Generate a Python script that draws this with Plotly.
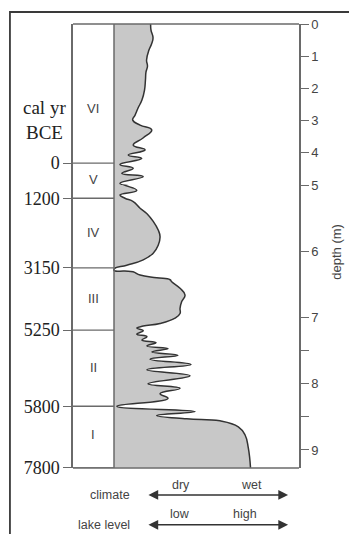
import plotly.graph_objects as go

# ---------------- data ----------------
# lake-level / moisture curve: depth in core (m) vs wetness index (0 = column edge, 100 = depth axis)
depth_m = [0.00, 0.19, 0.43, 0.62, 0.81, 1.12, 1.31, 1.49, 1.74, 2.05, 2.36, 2.61, 2.83, 2.98,
           3.14, 3.29, 3.54, 3.76, 3.91, 4.07, 4.18, 4.36, 4.48, 4.64, 4.74, 4.95, 5.08, 5.15,
           5.20, 5.25, 5.35, 5.43, 5.55, 5.68, 5.78, 5.91, 6.03, 6.13, 6.21, 6.26, 6.29, 6.30,
           6.31, 6.36, 6.40, 6.43, 6.46, 6.56, 6.66, 6.76, 6.86, 6.94, 7.01, 7.09, 7.13, 7.16,
           7.20, 7.25, 7.29, 7.34, 7.38, 7.43, 7.47, 7.52, 7.57, 7.63, 7.71, 7.79, 7.88, 8.00,
           8.07, 8.15, 8.22, 8.34, 8.42, 8.48, 8.53, 8.56, 8.65, 8.77, 8.97, 9.27]
wetness = [19.8, 20.0, 21.1, 20.3, 18.9, 17.6, 18.1, 17.3, 17.0, 16.5, 15.1, 13.0, 11.4, 10.1,
           14.1, 20.4, 15.7, 10.4, 16.8, 7.7, 15.0, 3.2, 10.4, 4.2, 15.8, 3.2, 12.3, 3.2,
           5.9, 10.4, 14.1, 17.7, 21.2, 23.9, 24.9, 23.9, 21.2, 15.8, 6.9, 0.3, 0.0, 5.9,
           10.3, 14.1, 23.1, 30.3, 31.2, 35.7, 38.4, 36.6, 35.7, 35.7, 33.0, 24.9, 15.8, 12.3,
           15.8, 12.3, 17.8, 15.1, 22.7, 17.8, 29.2, 20.5, 34.6, 19.5, 41.6, 17.8, 41.1, 18.4,
           35.7, 24.9, 29.2, 1.5, 43.8, 23.1, 39.3, 57.3, 67.2, 70.8, 72.6, 73.8]

age_labels = ["0", "1200", "3150", "5250", "5800", "7800"]
age_depth_m = [4.32, 5.20, 6.25, 7.19, 8.34, 9.27]

zone_labels = ["VI", "V", "IV", "III", "II", "I"]
zone_depth_m = [2.61, 4.84, 5.71, 6.71, 7.76, 8.77]

depth_ticks = [0, 1, 2, 3, 4, 5, 6, 7, 7.5, 8, 8.5, 9]
depth_ticktext = ["0", "1", "2", "3", "4", "5", "6", "7", "", "8", "", "9"]

# ---------------- layout constants ----------------
BREAK = 5.0          # depth where the vertical scale changes
BOTTOM = 9.272
SPLIT = 283 / 444    # paper fraction of lower panel
XMIN, XMAX = -22.16, 100
LINE = "#6a6a6a"
TXT = "#444444"
SANS = "Liberation Sans, Arial, sans-serif"
SERIF = "Liberation Serif, Times New Roman, serif"

fig = go.Figure()
for xa, ya in [("x", "y"), ("x2", "y3")]:
    fig.add_trace(go.Scatter(
        x=wetness, y=depth_m, xaxis=xa, yaxis=ya, mode="lines",
        fill="tozerox", fillcolor="#c8c8c8",
        line=dict(color="#333333", width=1.5, shape="spline", smoothing=1.3),
        hoverinfo="skip", showlegend=False))
# invisible traces so the overlaying right-hand axes render
for xa, ya in [("x", "y2"), ("x2", "y4")]:
    fig.add_trace(go.Scatter(x=[None], y=[None], xaxis=xa, yaxis=ya, showlegend=False,
                             hoverinfo="skip"))

top_ages = [(d, l) for d, l in zip(age_depth_m, age_labels) if d <= BREAK]
bot_ages = [(d, l) for d, l in zip(age_depth_m, age_labels) if d > BREAK]
top_dt = [(d, t) for d, t in zip(depth_ticks, depth_ticktext) if d < BREAK]
bot_dt = [(d, t) for d, t in zip(depth_ticks, depth_ticktext) if d >= BREAK]

left_axis = dict(showline=True, linecolor=LINE, linewidth=1.5, ticks="outside", ticklen=8,
                 tickcolor=LINE, tickwidth=1.3, showgrid=False, zeroline=False,
                 tickfont=dict(family=SERIF, size=18, color="#222222"), side="left")
right_axis = dict(showline=True, linecolor=LINE, linewidth=1.5, ticks="outside", ticklen=8,
                  tickcolor=LINE, tickwidth=1.3, showgrid=False, zeroline=False,
                  tickfont=dict(family=SANS, size=13, color=TXT), side="right")

fig.update_layout(
    width=349, height=534, margin=dict(l=73, r=50, t=24, b=66),
    paper_bgcolor="white", plot_bgcolor="white",
    xaxis=dict(domain=[0, 1], range=[XMIN, XMAX], visible=False, anchor="y"),
    xaxis2=dict(domain=[0, 1], range=[XMIN, XMAX], visible=False, anchor="y3"),
    yaxis=dict(domain=[SPLIT, 1], range=[BREAK, 0], anchor="x",
               tickvals=[d for d, _ in top_ages], ticktext=[l for _, l in top_ages], **left_axis),
    yaxis2=dict(overlaying="y", anchor="x", range=[BREAK, 0],
                tickvals=[d for d, _ in top_dt], ticktext=[t for _, t in top_dt], **right_axis),
    yaxis3=dict(domain=[0, SPLIT], range=[BOTTOM, BREAK], anchor="x2",
                tickvals=[d for d, _ in bot_ages], ticktext=[l for _, l in bot_ages], **left_axis),
    yaxis4=dict(overlaying="y3", anchor="x2", range=[BOTTOM, BREAK],
                tickvals=[d for d, _ in bot_dt], ticktext=[t for _, t in bot_dt], **right_axis),
)

shapes = [
    # column right edge
    dict(type="line", xref="x", yref="paper", x0=0, x1=0, y0=0, y1=1,
         line=dict(color=LINE, width=1.5)),
    # top and bottom borders of plot
    dict(type="line", xref="x", yref="paper", x0=XMIN, x1=XMAX, y0=1, y1=1,
         line=dict(color=LINE, width=1.5)),
    dict(type="line", xref="x", yref="paper", x0=XMIN, x1=XMAX, y0=0, y1=0,
         line=dict(color=LINE, width=1.5)),
    # outer frame (cropped at right and bottom)
    dict(type="rect", xref="paper", yref="paper", x0=-0.279, x1=1.3, y0=-0.2, y1=1.027,
         line=dict(color="#3a3a3a", width=1.8)),
]
for d in age_depth_m:
    shapes.append(dict(type="line", xref="x", yref="y" if d <= BREAK else "y3",
                       x0=XMIN, x1=0, y0=d, y1=d, line=dict(color=LINE, width=1.3)))

def txt(text, x, y, xref="paper", yref="paper", xanchor="center", size=12.5, family=SANS,
        color=TXT, angle=0):
    return dict(text=text, x=x, y=y, xref=xref, yref=yref, xanchor=xanchor, yanchor="middle",
                showarrow=False, textangle=angle, font=dict(family=family, size=size, color=color))

ann = []
for z, d in zip(zone_labels, zone_depth_m):
    ann.append(txt(z, -11.1, d, xref="x", yref="y" if d <= BREAK else "y3", size=13))
ann += [
    txt("cal yr", -0.124, 0.813, size=19, family=SERIF, color="#222222"),
    txt("BCE", -0.124, 0.755, size=19, family=SERIF, color="#222222"),
    txt("depth (m)", 1.168, 0.487, size=13, angle=-90),
    txt("climate", 9.7, -0.0608, xref="x", xanchor="right"),
    txt("lake level", 9.7, -0.128, xref="x", xanchor="right"),
    txt("dry", 36.2, -0.0383, xref="x"),
    txt("wet", 74.1, -0.0383, xref="x"),
    txt("low", 35.7, -0.1036, xref="x"),
    txt("high", 70.8, -0.1036, xref="x"),
]
for yp in [-0.0608, -0.128]:
    ann.append(dict(text="", x=94.1, y=yp, xref="x", yref="paper", ax=17.8, ay=0,
                    axref="x", ayref="pixel", showarrow=True, arrowside="end+start",
                    arrowhead=2, arrowsize=1.3, arrowwidth=1.5, arrowcolor="#333333"))

fig.update_layout(shapes=shapes, annotations=ann)
fig.write_html("out.html")
